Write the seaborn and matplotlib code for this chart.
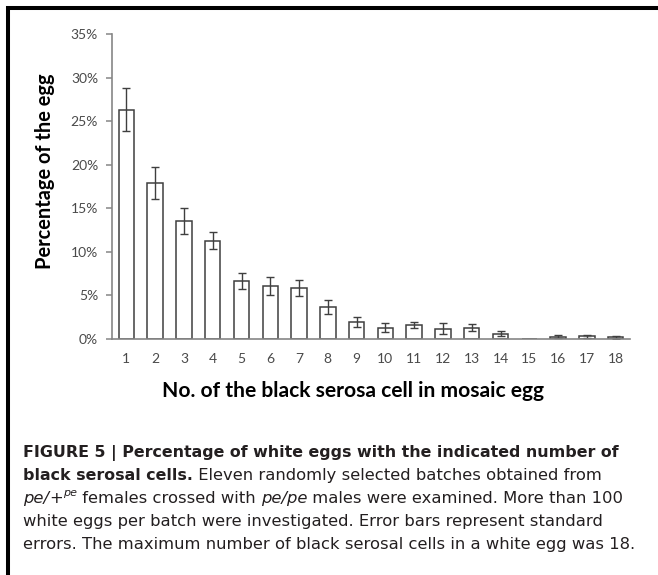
import numpy as np
import pandas as pd
import matplotlib
matplotlib.use("Agg")
import matplotlib.pyplot as plt
from matplotlib.patches import Rectangle
from matplotlib.ticker import FixedLocator
import seaborn as sns

# data (percent of white eggs)
cells = [str(i) for i in range(1, 19)]
pct = [26.3, 17.9, 13.55, 11.3, 6.65, 6.07, 5.85, 3.72, 1.94, 1.3, 1.6, 1.2,
       1.3, 0.6, 0.0, 0.27, 0.3, 0.2]
se = [2.45, 1.8, 1.45, 0.95, 0.92, 1.0, 0.9, 0.8, 0.57, 0.5, 0.3, 0.6,
      0.4, 0.27, 0.0, 0.15, 0.2, 0.15]
y_ticks = [0, 5, 10, 15, 20, 25, 30, 35]

sns.set_style("white")
plt.rcParams["font.family"] = ["Lato", "DejaVu Sans"]

W, H = 658, 575
fig = plt.figure(figsize=(W / 100, H / 100), dpi=100)
ax = fig.add_axes([112 / W, 1 - 339 / H, 518 / W, 305 / H])

df = pd.DataFrame({"cell": cells, "pct": pct, "se": se})
sns.barplot(data=df, x="cell", y="pct", color="white", edgecolor="#3f3f3f",
            linewidth=1.1, width=0.54, ax=ax)
# error bars (standard errors)
mask = df["se"] > 0
ax.errorbar(np.arange(len(df))[mask], df["pct"][mask], yerr=df["se"][mask],
            fmt="none", ecolor="#3f3f3f", elinewidth=1.0, capsize=3.2, capthick=1.0)

ax.set_ylim(0, 35)
ax.set_xlim(-0.5, len(cells) - 0.5)
ax.set_yticks(y_ticks)
ax.set_yticklabels([f"{t}%" for t in y_ticks])
ax.set_xticks(range(len(cells)))
ax.set_xticklabels(cells)
ax.xaxis.set_minor_locator(FixedLocator(np.arange(-0.5, len(cells), 1.0)))
ax.tick_params(axis="x", which="major", length=0, pad=10, labelsize=10, labelcolor="#4a4a4a")
ax.tick_params(axis="x", which="minor", length=4, width=1.1, color="#868686", direction="out")
ax.tick_params(axis="y", length=4, width=1.1, color="#868686", direction="out",
               pad=6, labelsize=10, labelcolor="#4a4a4a", left=True)
ax.set_xlabel("")
ax.set_ylabel("")
sns.despine(ax=ax)
for side in ["left", "bottom"]:
    ax.spines[side].set_color("#868686")
    ax.spines[side].set_linewidth(1.2)

# axis titles
fig.text(45 / W, 1 - 171 / H, "Percentage of the egg", rotation=90, ha="center",
         va="center", fontsize=14.4, fontweight="bold", color="black")
fig.text(353 / W, 1 - 391 / H, "No. of the black serosa cell in mosaic egg", ha="center",
         va="center", fontsize=15.1, fontweight="bold", color="black")

# caption
cap_font = ["DejaVu Sans"]
cap_size = 11.8
bold_size = 11.4
cap_col = "#231f20"


def caption_line(parts, y):
    """write one caption line built from (text, weight, style, super) pieces"""
    last = None
    for text, weight, style, sup in parts:
        size = bold_size if weight == "bold" else cap_size
        if sup:
            size = cap_size * 0.68
        ypos = y + (6.5 / H if sup else 0)
        if last is None:
            last = fig.text(23 / W, ypos, text, ha="left", va="baseline", fontsize=size,
                            fontweight=weight, fontstyle=style, family=cap_font, color=cap_col)
        else:
            last = plt.annotate(
                text, xy=(1, ypos), xycoords=(last, "figure fraction"), ha="left",
                va="baseline", fontsize=size, fontweight=weight, fontstyle=style,
                family=cap_font, color=cap_col, annotation_clip=False)


lines = [
    [("FIGURE 5 | Percentage of white eggs with the indicated number of", "bold", "normal", False)],
    [("black serosal cells.", "bold", "normal", False),
     (" Eleven randomly selected batches obtained from", "normal", "normal", False)],
    [("pe/", "normal", "italic", False), ("+", "normal", "normal", False),
     ("pe", "normal", "italic", True),
     (" females crossed with ", "normal", "normal", False), ("pe/pe", "normal", "italic", False),
     (" males were examined. More than 100", "normal", "normal", False)],
    [("white eggs per batch were investigated. Error bars represent standard", "normal", "normal", False)],
    [("errors. The maximum number of black serosal cells in a white egg was 18.", "normal", "normal", False)],
]
for i, parts in enumerate(lines):
    base = 456.7 + i * 23.15
    caption_line(parts, 1 - base / H)

# frame around the figure panel
fig.add_artist(Rectangle((8 / W, -0.2), 1.2, 1.2 - 8 / H, transform=fig.transFigure,
                         fill=False, edgecolor="black", linewidth=2.9))

fig.savefig("out.png", dpi=100)
